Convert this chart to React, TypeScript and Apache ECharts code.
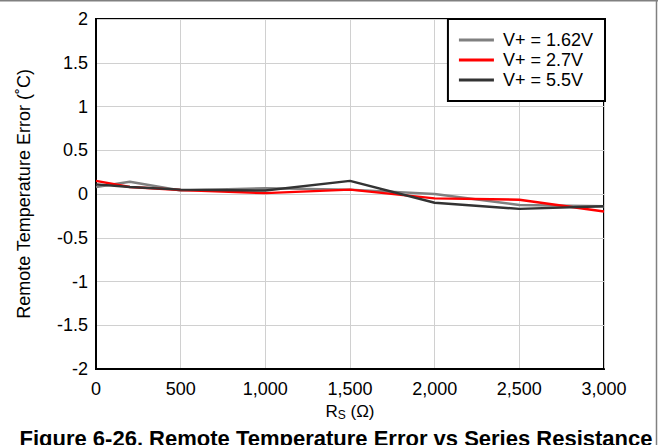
import React, { useEffect, useRef } from "react";
import * as echarts from "echarts";

const resistance = [0, 200, 500, 1000, 1500, 2000, 2500, 3000];
const v162 = [0.08, 0.14, 0.04, 0.065, 0.05, 0.0, -0.125, -0.14];
const v27 = [0.15, 0.08, 0.045, 0.01, 0.05, -0.05, -0.065, -0.2];
const v55 = [0.11, 0.08, 0.05, 0.04, 0.15, -0.1, -0.17, -0.14];
const seriesNames = ["V+ = 1.62V", "V+ = 2.7V", "V+ = 5.5V"];
const seriesColors = ["#808080", "#ff0000", "#333333"];
const titleText = "Figure 6-26. Remote Temperature Error vs Series Resistance";
const yTitle = "Remote Temperature Error (\u02DAC)";

export default function App() {
  const ref = useRef<HTMLDivElement>(null);
  useEffect(() => {
    if (!ref.current) return;
    const chart = echarts.init(ref.current, null, { renderer: "svg" });
    const font = "Liberation Sans, Arial, sans-serif";
    const seriesData = [v162, v27, v55];
    chart.setOption({
      animation: false,
      backgroundColor: "#ffffff",
      textStyle: { fontFamily: font },
      grid: {
        left: 96,
        right: 54,
        top: 19,
        bottom: 76,
        show: true,
        borderColor: "#000",
        borderWidth: 2,
        containLabel: false,
      },
      legend: {
        orient: "vertical",
        right: 53,
        top: 19,
        backgroundColor: "#fff",
        borderColor: "#000",
        borderWidth: 2,
        borderRadius: 0,
        padding: [11, 12, 11, 11],
        itemGap: 0,
        itemWidth: 35,
        itemHeight: 3,
        icon: "rect",
        textStyle: {
          fontFamily: font,
          fontSize: 18,
          color: "#000",
          lineHeight: 20,
          padding: [0, 0, 0, 4],
        },
        data: seriesNames,
      },
      xAxis: {
        type: "value",
        min: 0,
        max: 3000,
        interval: 500,
        axisLine: { show: true, onZero: false, lineStyle: { color: "#000", width: 2 } },
        axisTick: { show: false },
        splitLine: { show: true, lineStyle: { color: "#d0d0d0", width: 1 } },
        axisLabel: {
          color: "#000",
          fontSize: 18,
          fontFamily: font,
          margin: 11,
          formatter: (v: number) => v.toLocaleString("en-US"),
        },
        name: "{r|R}{s|S}{r| (Ω)}",
        nameLocation: "middle",
        nameGap: 30,
        nameTextStyle: {
          rich: {
            r: { fontSize: 17, fontFamily: font, color: "#000" },
            s: { fontSize: 12, fontFamily: font, color: "#000", verticalAlign: "bottom", padding: [7, 0, 0, 0] },
          },
        },
      },
      yAxis: {
        type: "value",
        min: -2,
        max: 2,
        interval: 0.5,
        axisLine: { show: true, onZero: false, lineStyle: { color: "#000", width: 2 } },
        axisTick: { show: false },
        splitLine: { show: true, lineStyle: { color: "#d0d0d0", width: 1 } },
        axisLabel: {
          color: "#000",
          fontSize: 18,
          fontFamily: font,
          margin: 8,
        },
        name: yTitle,
        nameLocation: "middle",
        nameGap: 63,
        nameTextStyle: { fontSize: 18, fontFamily: font, color: "#000" },
      },
      series: seriesNames.map((name, i) => ({
        name,
        type: "line",
        data: resistance.map((x, j) => [x, seriesData[i][j]]),
        showSymbol: false,
        symbol: "none",
        lineStyle: { color: seriesColors[i], width: 2.5 },
        itemStyle: { color: seriesColors[i] },
        z: 2 + i,
      })),
      graphic: [
        {
          type: "line",
          shape: { x1: 0, y1: 0.5, x2: 658, y2: 0.5 },
          style: { stroke: "#808080", lineWidth: 2 },
        },
        {
          type: "line",
          shape: { x1: 656.5, y1: 0, x2: 656.5, y2: 445 },
          style: { stroke: "#808080", lineWidth: 1.5 },
        },
        {
          type: "text",
          x: 336,
          y: 427,
          style: {
            text: titleText,
            fill: "#000",
            font: `bold 22px ${font}`,
            textAlign: "center",
            textVerticalAlign: "top",
          },
        },
      ],
    });
    return () => chart.dispose();
  }, []);
  return (
    <div
      ref={ref}
      style={{ position: "absolute", left: 0, top: 0, width: 658, height: 445 }}
    />
  );
}
